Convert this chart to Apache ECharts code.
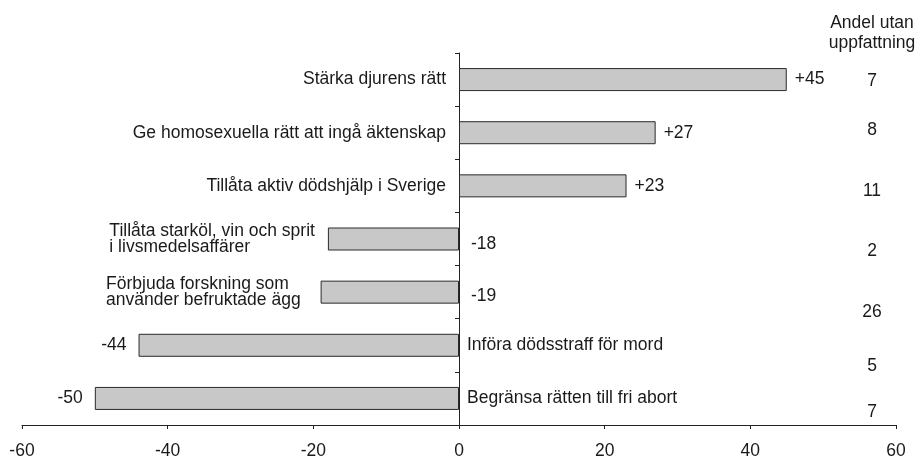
<!DOCTYPE html>
<html lang="sv">

<head>
  <meta charset="UTF-8">
  <style>
    #chart {
      width: 918px;
      height: 460px;
    }

    body {
      margin: 0;
      background: #fff;
    }
  </style>
  <title>Opinionsbalans</title>
</head>

<body>
  <div id="chart"></div>
  <script src="https://cdn.jsdelivr.net/npm/echarts@6/dist/echarts.min.js"></script>
  <script>
    // data
    var categories = [
      'Stärka djurens rätt',
      'Ge homosexuella rätt att ingå äktenskap',
      'Tillåta aktiv dödshjälp i Sverige',
      'Tillåta starköl, vin och sprit\ni livsmedelsaffärer',
      'Förbjuda forskning som\nanvänder befruktade ägg',
      'Införa dödsstraff för mord',
      'Begränsa rätten till fri abort'
    ];
    var balance = [45, 27, 23, -18, -19, -44, -50];
    var noOpinion = [7, 8, 11, 2, 26, 5, 7];
    var noOpinionTitle = 'Andel utan\nuppfattning';
    var xMin = -60, xMax = 60, xStep = 20;

    // label placement tweaks (styling only)
    var nameDist = [13, 13, 13, 13, 20, 8, 8];
    var valueShiftY = [0, 0, 0, 5, 4, 0, 0];
    var noOpinionShiftY = [2, -3, 5, 12, 20, 21, 14];

    var FONT = 'Liberation Sans, Arial, sans-serif';
    var TXT = '#1a1a1a';
    var FS = 17.5;

    function signed(v) {
      return v > 0 ? '+' + v : String(v);
    }

    var valueData = balance.map(function (v, i) {
      var pos = v > 0 ? 'right' : (v < -30 ? 'left' : 'right');
      return {
        value: v,
        label: {
          position: pos,
          distance: v > 0 ? 8 : 12,
          offset: [0, valueShiftY[i]]
        }
      };
    });

    var nameData = balance.map(function (v, i) {
      var pos = v < -30 ? 'right' : 'left';
      return {
        value: v,
        label: {
          position: pos,
          distance: nameDist[i]
        }
      };
    });

    var rightRich = {};
    noOpinionShiftY.forEach(function (d, i) {
      rightRich['r' + i] = {
        fontFamily: FONT,
        fontSize: FS,
        color: TXT,
        padding: d >= 0 ? [2 * d, 0, 0, 0] : [0, 0, -2 * d, 0]
      };
    });

    var chart = echarts.init(document.getElementById('chart'));
    var option = {
      animation: false,
      backgroundColor: '#fff',
      textStyle: { fontFamily: FONT, color: TXT },
      title: {
        text: noOpinionTitle,
        left: 872,
        top: 13,
        padding: 0,
        textAlign: 'center',
        textStyle: {
          fontFamily: FONT,
          fontSize: FS,
          fontWeight: 'normal',
          color: TXT,
          lineHeight: 20
        }
      },
      grid: {
        left: 22,
        right: 22,
        top: 53,
        bottom: 33,
        containLabel: false
      },
      xAxis: {
        type: 'value',
        min: xMin,
        max: xMax,
        interval: xStep,
        splitLine: { show: false },
        axisLine: { show: true, lineStyle: { color: '#222', width: 1 } },
        axisTick: { show: true, length: 4, lineStyle: { color: '#222' } },
        axisLabel: {
          margin: 17,
          fontFamily: FONT,
          fontSize: FS,
          color: TXT
        }
      },
      yAxis: [
        {
          type: 'category',
          data: categories,
          inverse: true,
          axisLine: { show: true, onZero: true, lineStyle: { color: '#222', width: 1 } },
          axisTick: { show: true, length: 4, lineStyle: { color: '#222' } },
          axisLabel: { show: false },
          splitLine: { show: false }
        },
        {
          type: 'category',
          data: noOpinion.map(String),
          inverse: true,
          position: 'right',
          offset: -24,
          axisLine: { show: false },
          axisTick: { show: false },
          splitLine: { show: false },
          axisLabel: {
            margin: 0,
            align: 'center',
            formatter: function (val, idx) {
              return '{r' + idx + '|' + val + '}';
            },
            rich: rightRich
          }
        }
      ],
      series: [
        {
          name: 'balans',
          type: 'bar',
          yAxisIndex: 0,
          barWidth: 23,
          barGap: '-100%',
          data: valueData,
          itemStyle: {
            color: '#c8c8c8',
            borderColor: '#2a2a2a',
            borderWidth: 1
          },
          label: {
            show: true,
            fontFamily: FONT,
            fontSize: FS,
            color: TXT,
            formatter: function (p) {
              return signed(p.value);
            }
          },
          silent: true
        },
        {
          name: 'namn',
          type: 'bar',
          yAxisIndex: 0,
          barWidth: 23,
          barGap: '-100%',
          data: nameData,
          itemStyle: { color: 'rgba(0,0,0,0)', borderWidth: 0 },
          label: {
            show: true,
            formatter: function (p) {
              return categories[p.dataIndex].split('\n').map(function (s) {
                return '{l|' + s + '}';
              }).join('\n');
            },
            rich: {
              l: {
                align: 'left',
                fontFamily: FONT,
                fontSize: FS,
                color: TXT,
                lineHeight: 16
              }
            }
          },
          silent: true,
          z: 3
        }
      ]
    };
    chart.setOption(option);
  </script>
</body>

</html>
